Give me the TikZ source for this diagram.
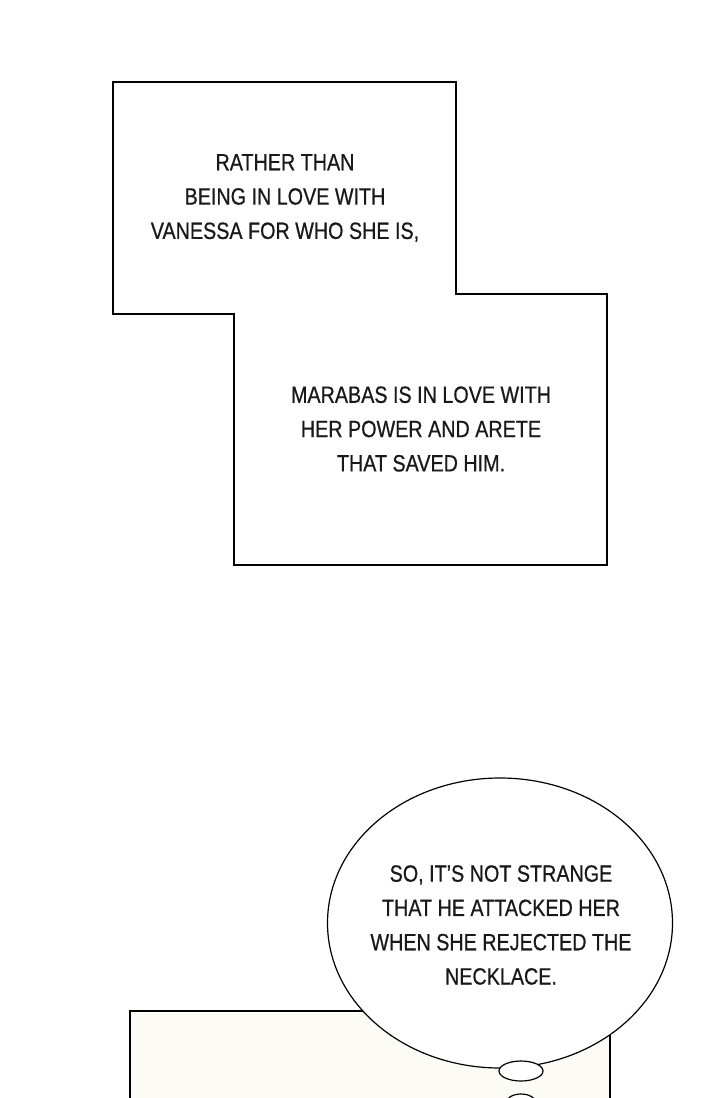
\documentclass[tikz,border=0pt]{standalone}
\usepackage{fontspec}
\setmainfont[FakeStretch=0.84,FakeBold=0.6]{Liberation Sans}
\usetikzlibrary{shapes.geometric}
\definecolor{cream}{RGB}{253,251,245}
\begin{document}
\begin{tikzpicture}[x=1pt,y=-1pt,line width=1.2pt,
  txt/.style={align=center,font=\fontsize{23.5}{34.3}\selectfont,inner sep=0pt,text=black!90}]
\useasboundingbox[fill=white] (0,0) rectangle (720,1098);
\draw[fill=white] (113,82) -- (456,82) -- (456,294) -- (607,294) -- (607,565) -- (234,565) -- (234,314) -- (113,314) -- cycle;
\node[txt] (t1) at (285,198) {RATHER THAN\\BEING IN LOVE WITH\\VANESSA FOR WHO SHE IS,};
\node[txt] (t2) at (421,429) {MARABAS IS IN LOVE WITH\\HER POWER AND ARETE\\THAT SAVED HIM.};
\draw[fill=cream,line width=1.5pt] (130,1098) -- (130,1011) -- (610,1011) -- (610,1098);
\node[draw,ellipse,fill=white,minimum width=345,minimum height=290,inner sep=0] (b) at (500,923) {};
\node[txt] (t3) at (501,925) {SO, IT'S NOT STRANGE\\THAT HE ATTACKED HER\\WHEN SHE REJECTED THE\\NECKLACE.};
\draw[fill=white] (521,1071) ellipse (22 and 10);
\draw[fill=white] (521,1103) ellipse (15 and 9);
\end{tikzpicture}
\end{document}
